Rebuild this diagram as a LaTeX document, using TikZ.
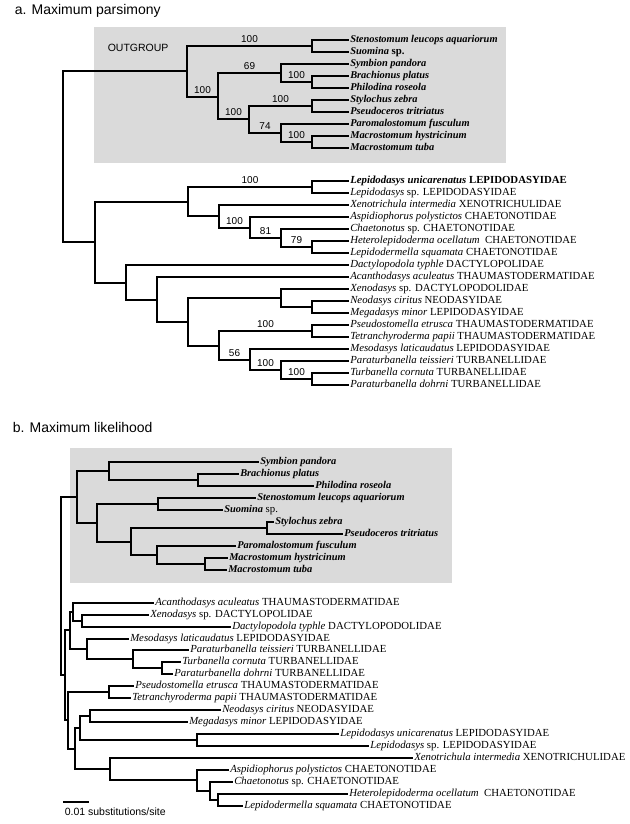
\documentclass[tikz,border=0pt]{standalone}
\usepackage{fontspec}
\setmainfont{Liberation Serif}
\setsansfont{Liberation Sans}
\usepackage{tikz}
\definecolor{boxgray}{RGB}{218,218,218}
\tikzstyle{every node}=[font=\fontsize{10.8}{12}\selectfont]
\tikzstyle{taxon}=[anchor=west,inner xsep=1.5pt,inner ysep=0pt,text height=7.5pt,text depth=2.5pt]
\tikzstyle{boot}=[pos=0.75,anchor=south,inner sep=0pt,yshift=2.5pt,font=\sffamily\fontsize{10}{12}\selectfont]
\tikzstyle{heading}=[anchor=base west,inner sep=0pt,font=\sffamily\fontsize{14}{16}\selectfont]
\newcommand{\outg}[1]{{\fontsize{10.4}{12}\selectfont\bfseries\itshape #1}}

\begin{document}
\begin{tikzpicture}[line cap=rect,line join=miter,line width=1.5pt,x=1pt,y=-1pt]
\useasboundingbox (0,0) rectangle (629,824);
\fill[boxgray] (94,27) rectangle (506,163);
\fill[boxgray] (70,448) rectangle (452,583);
\node[heading] (titleA) at (14,15) {a. Maximum parsimony};
\node[heading] (titleB) at (12,432) {b. Maximum likelihood};
\node[heading,font=\sffamily\fontsize{10.5}{12}\selectfont] (outgrp) at (107,52) {OUTGROUP};

\coordinate (aR) at (63,156);
\coordinate (aOG) at (187,71);
\coordinate (aSS) at (312,46);
\coordinate (aO2) at (218,97);
\coordinate (aO3) at (281,73);
\coordinate (aBP) at (312,82);
\coordinate (aO4) at (249,119);
\coordinate (aSP) at (312,106);
\coordinate (aO5) at (281,133);
\coordinate (aMM) at (312,142);
\coordinate (aI) at (95,242);
\coordinate (aL1) at (188,202);
\coordinate (aLL) at (312,187);
\coordinate (aC1) at (219,216);
\coordinate (aC2) at (250,228);
\coordinate (aC3) at (281,238);
\coordinate (aHL) at (312,247);
\coordinate (aL2) at (126,283);
\coordinate (aM1) at (157,300);
\coordinate (aM2) at (188,322);
\coordinate (aXN) at (281,298);
\coordinate (aNM) at (312,307);
\coordinate (aM3) at (219,346);
\coordinate (aPT) at (312,331);
\coordinate (aM4) at (250,360);
\coordinate (aM5) at (281,370);
\coordinate (aTP) at (312,379);

\node[taxon] (a1) at (348,40) {\outg{Stenostomum leucops aquariorum}};
\node[taxon] (a2) at (348,52) {\outg{Suomina} \textbf{sp.}};
\node[taxon] (a3) at (348,64) {\outg{Symbion pandora}};
\node[taxon] (a4) at (348,76) {\outg{Brachionus platus}};
\node[taxon] (a5) at (348,88) {\outg{Philodina roseola}};
\node[taxon] (a6) at (348,100) {\outg{Stylochus zebra}};
\node[taxon] (a7) at (348,112) {\outg{Pseudoceros tritriatus}};
\node[taxon] (a8) at (348,124) {\outg{Paromalostomum fusculum}};
\node[taxon] (a9) at (348,136) {\outg{Macrostomum hystricinum}};
\node[taxon] (a10) at (348,148) {\outg{Macrostomum tuba}};
\node[taxon] (a11) at (348,181) {\textbf{\textit{Lepidodasys unicarenatus} LEPIDODASYIDAE}};
\node[taxon] (a12) at (348,193) {\textit{Lepidodasys} sp. LEPIDODASYIDAE};
\node[taxon] (a13) at (348,205) {\textit{Xenotrichula intermedia} XENOTRICHULIDAE};
\node[taxon] (a14) at (348,217) {\textit{Aspidiophorus polystictos} CHAETONOTIDAE};
\node[taxon] (a15) at (348,229) {\textit{Chaetonotus} sp. CHAETONOTIDAE};
\node[taxon] (a16) at (348,241) {\textit{Heterolepidoderma ocellatum}\ \ CHAETONOTIDAE};
\node[taxon] (a17) at (348,253) {\textit{Lepidodermella squamata} CHAETONOTIDAE};
\node[taxon] (a18) at (348,265) {\textit{Dactylopodola typhle} DACTYLOPOLIDAE};
\node[taxon] (a19) at (348,277) {\textit{Acanthodasys aculeatus} THAUMASTODERMATIDAE};
\node[taxon] (a20) at (348,289) {\textit{Xenodasys} sp. DACTYLOPODOLIDAE};
\node[taxon] (a21) at (348,301) {\textit{Neodasys ciritus} NEODASYIDAE};
\node[taxon] (a22) at (348,313) {\textit{Megadasys minor} LEPIDODASYIDAE};
\node[taxon] (a23) at (348,325) {\textit{Pseudostomella etrusca} THAUMASTODERMATIDAE};
\node[taxon] (a24) at (348,337) {\textit{Tetranchyroderma papii} THAUMASTODERMATIDAE};
\node[taxon] (a25) at (348,349) {\textit{Mesodasys laticaudatus} LEPIDODASYIDAE};
\node[taxon] (a26) at (348,361) {\textit{Paraturbanella teissieri} TURBANELLIDAE};
\node[taxon] (a27) at (348,373) {\textit{Turbanella cornuta} TURBANELLIDAE};
\node[taxon] (a28) at (348,385) {\textit{Paraturbanella dohrni} TURBANELLIDAE};

\draw (aR) |- (aOG);
\draw (aR) |- (aI);
\draw (aOG) |- node[boot]{100} (aSS);
\draw (aOG) |- node[boot]{100} (aO2);
\draw (aSS) |- (a1.west);
\draw (aSS) |- (a2.west);
\draw (aO2) |- node[boot]{69} (aO3);
\draw (aO2) |- node[boot]{100} (aO4);
\draw (aO3) |- (a3.west);
\draw (aO3) |- node[boot]{100} (aBP);
\draw (aBP) |- (a4.west);
\draw (aBP) |- (a5.west);
\draw (aO4) |- node[boot]{100} (aSP);
\draw (aO4) |- node[boot]{74} (aO5);
\draw (aSP) |- (a6.west);
\draw (aSP) |- (a7.west);
\draw (aO5) |- (a8.west);
\draw (aO5) |- node[boot]{100} (aMM);
\draw (aMM) |- (a9.west);
\draw (aMM) |- (a10.west);
\draw (aI) |- (aL1);
\draw (aI) |- (aL2);
\draw (aL1) |- node[boot]{100} (aLL);
\draw (aL1) |- (aC1);
\draw (aLL) |- (a11.west);
\draw (aLL) |- (a12.west);
\draw (aC1) |- (a13.west);
\draw (aC1) |- node[boot]{100} (aC2);
\draw (aC2) |- (a14.west);
\draw (aC2) |- node[boot]{81} (aC3);
\draw (aC3) |- (a15.west);
\draw (aC3) |- node[boot]{79} (aHL);
\draw (aHL) |- (a16.west);
\draw (aHL) |- (a17.west);
\draw (aL2) |- (a18.west);
\draw (aL2) |- (aM1);
\draw (aM1) |- (a19.west);
\draw (aM1) |- (aM2);
\draw (aM2) |- (aXN);
\draw (aM2) |- (aM3);
\draw (aXN) |- (a20.west);
\draw (aXN) |- (aNM);
\draw (aNM) |- (a21.west);
\draw (aNM) |- (a22.west);
\draw (aM3) |- node[boot]{100} (aPT);
\draw (aM3) |- node[boot]{56} (aM4);
\draw (aPT) |- (a23.west);
\draw (aPT) |- (a24.west);
\draw (aM4) |- (a25.west);
\draw (aM4) |- node[boot]{100} (aM5);
\draw (aM5) |- (a26.west);
\draw (aM5) |- node[boot]{100} (aTP);
\draw (aTP) |- (a27.west);
\draw (aTP) |- (a28.west);

\coordinate (bR) at (61,586);
\coordinate (bOG) at (77,497);
\coordinate (bO1) at (109,471);
\coordinate (bBP) at (198,480);
\coordinate (bO2) at (97,523);
\coordinate (bSS) at (158,504);
\coordinate (bO3) at (131,542);
\coordinate (bSP) at (267,528);
\coordinate (bO4) at (157,555);
\coordinate (bMM) at (205,564);
\coordinate (bI) at (65,675);
\coordinate (bA) at (70,630);
\coordinate (bA1) at (73,612);
\coordinate (bXD) at (82,621);
\coordinate (bA2) at (87,649);
\coordinate (bT1) at (133,659);
\coordinate (bT2) at (162,668);
\coordinate (bB) at (68,720);
\coordinate (bPT) at (109,692);
\coordinate (bC) at (75,749);
\coordinate (bC1) at (80,728);
\coordinate (bNM) at (90,716);
\coordinate (bLL) at (197,740);
\coordinate (bC2) at (110,769);
\coordinate (bCh1) at (197,780);
\coordinate (bCh2) at (210,791);
\coordinate (bCh3) at (218,800);

\node[taxon] (b1) at (258,462) {\outg{Symbion pandora}};
\node[taxon] (b2) at (238,474) {\outg{Brachionus platus}};
\node[taxon] (b3) at (313,486) {\outg{Philodina roseola}};
\node[taxon] (b4) at (255,498) {\outg{Stenostomum leucops aquariorum}};
\node[taxon] (b5) at (222,510) {\outg{Suomina} sp.};
\node[taxon] (b6) at (273,522) {\outg{Stylochus zebra}};
\node[taxon] (b7) at (342,534) {\outg{Pseudoceros tritriatus}};
\node[taxon] (b8) at (235,546) {\outg{Paromalostomum fusculum}};
\node[taxon] (b9) at (227,558) {\outg{Macrostomum hystricinum}};
\node[taxon] (b10) at (226,570) {\outg{Macrostomum tuba}};
\node[taxon] (b11) at (153,603) {\textit{Acanthodasys aculeatus} THAUMASTODERMATIDAE};
\node[taxon] (b12) at (148,615) {\textit{Xenodasys} sp. DACTYLOPOLIDAE};
\node[taxon] (b13) at (230,627) {\textit{Dactylopodola typhle} DACTYLOPODOLIDAE};
\node[taxon] (b14) at (128,639) {\textit{Mesodasys laticaudatus} LEPIDODASYIDAE};
\node[taxon] (b15) at (188,650) {\textit{Paraturbanella teissieri} TURBANELLIDAE};
\node[taxon] (b16) at (180,662) {\textit{Turbanella cornuta} TURBANELLIDAE};
\node[taxon] (b17) at (172,674) {\textit{Paraturbanella dohrni} TURBANELLIDAE};
\node[taxon] (b18) at (133,686) {\textit{Pseudostomella etrusca} THAUMASTODERMATIDAE};
\node[taxon] (b19) at (130,698) {\textit{Tetranchyroderma papii} THAUMASTODERMATIDAE};
\node[taxon] (b20) at (220,710) {\textit{Neodasys ciritus} NEODASYIDAE};
\node[taxon] (b21) at (187,722) {\textit{Megadasys minor} LEPIDODASYIDAE};
\node[taxon] (b22) at (338,734) {\textit{Lepidodasys unicarenatus} LEPIDODASYIDAE};
\node[taxon] (b23) at (368,746) {\textit{Lepidodasys} sp. LEPIDODASYIDAE};
\node[taxon] (b24) at (412,758) {\textit{Xenotrichula intermedia} XENOTRICHULIDAE};
\node[taxon] (b25) at (228,770) {\textit{Aspidiophorus polystictos} CHAETONOTIDAE};
\node[taxon] (b26) at (232,782) {\textit{Chaetonotus} sp. CHAETONOTIDAE};
\node[taxon] (b27) at (347,794) {\textit{Heterolepidoderma ocellatum}\ \ CHAETONOTIDAE};
\node[taxon] (b28) at (242,806) {\textit{Lepidodermella squamata} CHAETONOTIDAE};

\draw (bR) |- (bOG);
\draw (bR) |- (bI);
\draw (bOG) |- (bO1);
\draw (bOG) |- (bO2);
\draw (bO1) |- (b1.west);
\draw (bO1) |- (bBP);
\draw (bBP) |- (b2.west);
\draw (bBP) |- (b3.west);
\draw (bO2) |- (bSS);
\draw (bO2) |- (bO3);
\draw (bSS) |- (b4.west);
\draw (bSS) |- (b5.west);
\draw (bO3) |- (bSP);
\draw (bO3) |- (bO4);
\draw (bSP) |- (b6.west);
\draw (bSP) |- (b7.west);
\draw (bO4) |- (b8.west);
\draw (bO4) |- (bMM);
\draw (bMM) |- (b9.west);
\draw (bMM) |- (b10.west);
\draw (bI) |- (bA);
\draw (bI) |- (bB);
\draw (bA) |- (bA1);
\draw (bA) |- (bA2);
\draw (bA1) |- (b11.west);
\draw (bA1) |- (bXD);
\draw (bXD) |- (b12.west);
\draw (bXD) |- (b13.west);
\draw (bA2) |- (b14.west);
\draw (bA2) |- (bT1);
\draw (bT1) |- (b15.west);
\draw (bT1) |- (bT2);
\draw (bT2) |- (b16.west);
\draw (bT2) |- (b17.west);
\draw (bB) |- (bPT);
\draw (bB) |- (bC);
\draw (bPT) |- (b18.west);
\draw (bPT) |- (b19.west);
\draw (bC) |- (bC1);
\draw (bC) |- (bC2);
\draw (bC1) |- (bNM);
\draw (bC1) |- (bLL);
\draw (bNM) |- (b20.west);
\draw (bNM) |- (b21.west);
\draw (bLL) |- (b22.west);
\draw (bLL) |- (b23.west);
\draw (bC2) |- (b24.west);
\draw (bC2) |- (bCh1);
\draw (bCh1) |- (b25.west);
\draw (bCh1) |- (bCh2);
\draw (bCh2) |- (b26.west);
\draw (bCh2) |- (bCh3);
\draw (bCh3) |- (b27.west);
\draw (bCh3) |- (b28.west);

\coordinate (sbL) at (64,802);
\coordinate (sbR) at (88,802);
\draw[line width=1.2pt] (sbL) -- (sbR);
\node[heading,font=\sffamily\fontsize{10.5}{12}\selectfont] (sbtext) at (64,815) {0.01 substitutions/site};
\end{tikzpicture}
\end{document}
